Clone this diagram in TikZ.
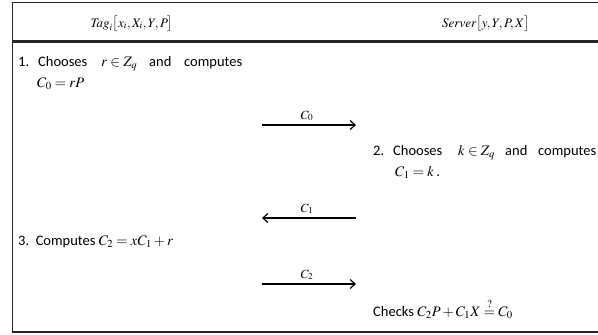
\documentclass[tikz,border=0pt]{standalone}
\usetikzlibrary{arrows.meta}
\usepackage{mathptmx}
\usepackage[no-math]{fontspec}
\setmainfont{Carlito}
\begin{document}
\begin{tikzpicture}[x=1pt,y=-1pt,
  frame/.style={line width=1.7pt,black!85},
  msg/.style={line width=1.2pt,-{Straight Barb[length=5pt,width=9pt,line width=1.2pt]}},
  txt/.style={anchor=base west,inner sep=0pt,font=\fontsize{14.5}{17}\selectfont},
  hdr/.style={anchor=base,inner sep=0pt,font=\fontsize{13}{15}\selectfont},
  lbl/.style={anchor=base,inner sep=0pt,font=\fontsize{12.5}{14}\selectfont}]
\useasboundingbox (0,0) rectangle (598,335);
\clip (0,0) rectangle (598,335);
% frame
\draw[frame] (600,2.5) -- (12.5,2.5) -- (12.5,332) -- (600,332);
\draw[line width=2.6pt,black!85] (12.5,41.5) -- (600,41.5);
% headers
\node[hdr] (tag) at (132,27) {$\mathit{Tag}_i\bigl[x_i,X_i,Y,P\bigr]$};
\node[hdr] (srv) at (486,27) {$\mathit{Server}\bigl[y,Y,P,X\bigr]$};
% step 1
\node[txt] (s1n) at (18,66) {1.};
\node[txt] (s1a) at (38,66) {Chooses};
\node[txt] (s1m) at (101,66) {$r\in Z_q$};
\node[txt] (s1c) at (149,66) {and};
\node[txt] (s1d) at (184,66) {computes};
\node[txt] (s1b) at (37,87) {$C_0=rP$};
% arrows
\coordinate (aL1) at (262,125); \coordinate (aR1) at (356,125);
\coordinate (aL2) at (262,218); \coordinate (aR2) at (356,218);
\coordinate (aL3) at (262,284); \coordinate (aR3) at (356,284);
\draw[msg] (aL1) -- (aR1);
\draw[msg] (aR2) -- (aL2);
\draw[msg] (aL3) -- (aR3);
\node[lbl] (c0) at (307,119) {$C_0$};
\node[lbl] (c1) at (307,212) {$C_1$};
\node[lbl] (c2) at (307,278) {$C_2$};
% step 2
\node[txt] (s2n) at (373,155) {2.};
\node[txt] (s2a) at (393,155) {Chooses};
\node[txt] (s2m) at (458,155) {$k\in Z_q$};
\node[txt] (s2c) at (505,155) {and};
\node[txt] (s2d) at (538,155) {computes};
\node[txt] (s2b) at (395,176) {$C_1=k$\,.};
% step 3
\node[txt] (s3) at (18,245) {3.\ \ Computes $C_2=xC_1+r$};
% check
\node[txt] (s4) at (373,316) {Checks $C_2P+C_1X\stackrel{?}{=}C_0$};
\end{tikzpicture}
\end{document}
